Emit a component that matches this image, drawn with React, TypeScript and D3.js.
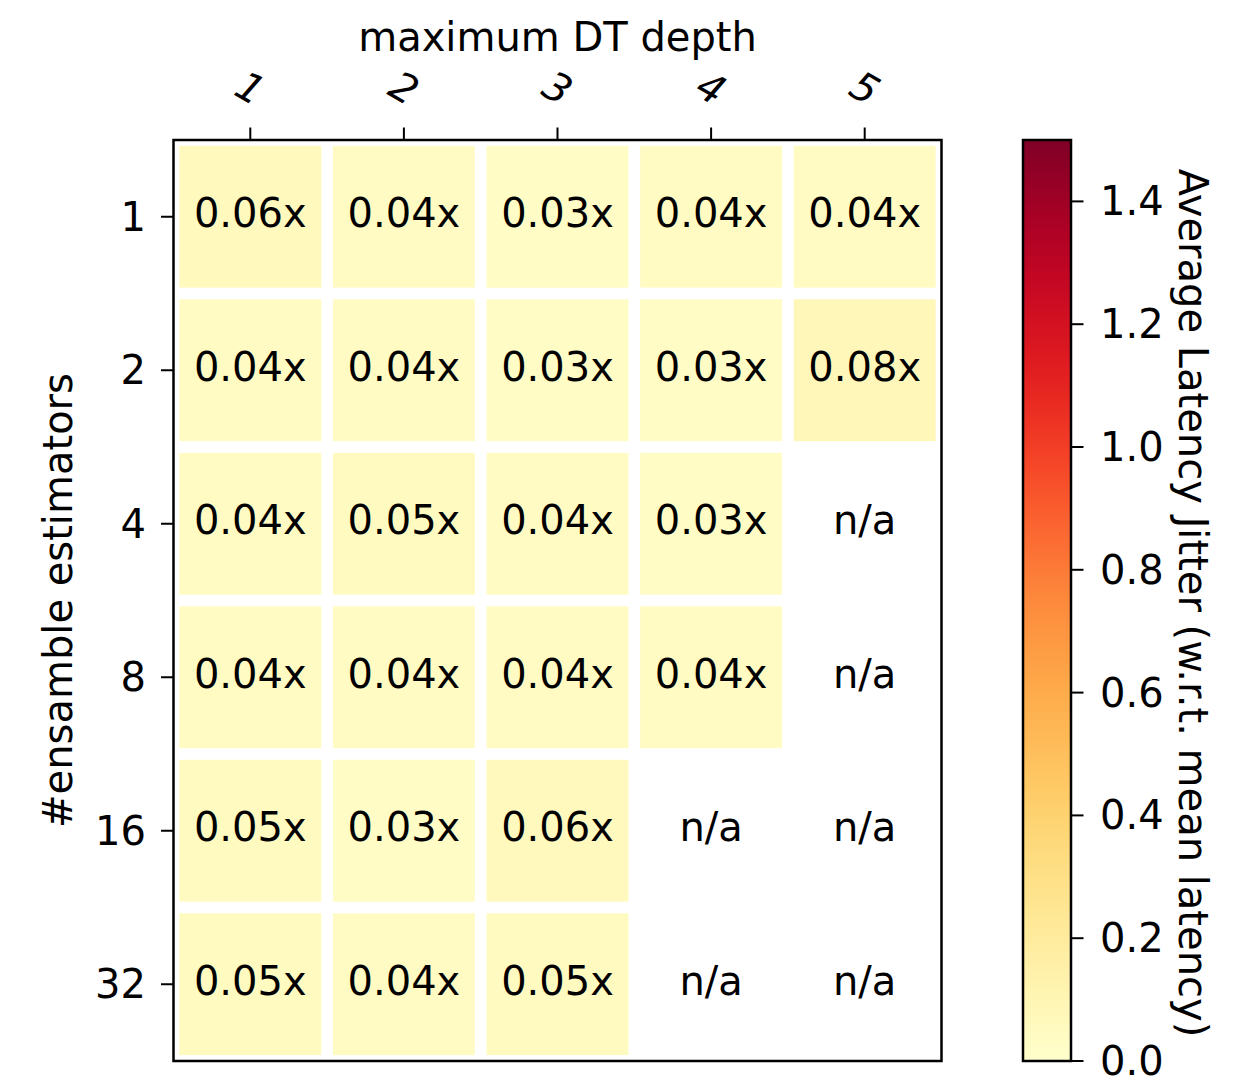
import React from 'react';
import * as d3 from 'd3';

const depths = ['1', '2', '3', '4', '5'];
const estimators = ['1', '2', '4', '8', '16', '32'];
// jitter per row (estimators) and column (depth); null = n/a
const jitter: (number | null)[][] = [
    [0.06, 0.04, 0.03, 0.04, 0.04],
    [0.04, 0.04, 0.03, 0.03, 0.08],
    [0.04, 0.05, 0.04, 0.03, null],
    [0.04, 0.04, 0.04, 0.04, null],
    [0.05, 0.03, 0.06, null, null],
    [0.05, 0.04, 0.05, null, null],
];
const cbarTicks = [0.0, 0.2, 0.4, 0.6, 0.8, 1.0, 1.2, 1.4];

const FONT = 'DejaVu Sans, sans-serif';
const FS = 40;

const App = () => {
    const W = 1239;
    const H = 1082;
    const plot = { left: 173.5, right: 941.5, top: 140, bottom: 1061 };
    const cbar = { left: 1023, right: 1071, top: 140, bottom: 1061 };

    const gapFrac = 0.076;
    const x = d3.scaleBand<string>()
        .domain(depths)
        .range([plot.left, plot.right])
        .paddingInner(gapFrac)
        .paddingOuter(gapFrac / 2);
    const y = d3.scaleBand<string>()
        .domain(estimators)
        .range([plot.top, plot.bottom])
        .paddingInner(gapFrac)
        .paddingOuter(gapFrac / 2);

    const color = d3.scaleSequential(d3.interpolateYlOrRd).domain([0, 1.5]);
    const cy = d3.scaleLinear().domain([0, 1.5]).range([cbar.bottom, cbar.top]);

    const stops = d3.range(0, 1.0001, 0.05);

    const xCenter = (d: string) => (x(d) as number) + x.bandwidth() / 2;
    const yCenter = (d: string) => (y(d) as number) + y.bandwidth() / 2;

    return (
        <div style={{ position: 'absolute', left: 0, top: 0 }}>
            <svg width={W} height={H} style={{ display: 'block', background: '#fff' }} fontFamily={FONT}>
                <defs>
                    <linearGradient id="cbarGrad" x1="0" y1="1" x2="0" y2="0">
                        {stops.map((t, i) => (
                            <stop key={i} offset={t} stopColor={d3.interpolateYlOrRd(t)} />
                        ))}
                    </linearGradient>
                </defs>

                {/* cells */}
                {jitter.map((row, ri) =>
                    row.map((v, ci) => {
                        const cx = xCenter(depths[ci]);
                        const cyy = yCenter(estimators[ri]);
                        return (
                            <g key={`${ri}-${ci}`}>
                                {v !== null && (
                                    <rect
                                        x={x(depths[ci])}
                                        y={y(estimators[ri])}
                                        width={x.bandwidth()}
                                        height={y.bandwidth()}
                                        fill={color(v)}
                                    />
                                )}
                                <text x={cx} y={cyy + 10.5} textAnchor="middle" fontSize={FS} fill="#000">
                                    {v === null ? 'n/a' : `${v.toFixed(2)}x`}
                                </text>
                            </g>
                        );
                    })
                )}

                {/* frame */}
                <rect
                    x={plot.left}
                    y={plot.top}
                    width={plot.right - plot.left}
                    height={plot.bottom - plot.top}
                    fill="none"
                    stroke="#000"
                    strokeWidth={2.5}
                />

                {/* top axis */}
                {depths.map(d => (
                    <g key={d}>
                        <line x1={xCenter(d)} x2={xCenter(d)} y1={plot.top} y2={plot.top - 12.5} stroke="#000" strokeWidth={2} />
                        <text
                            transform={`translate(${xCenter(d)},${88}) rotate(30)`}
                            textAnchor="middle"
                            dominantBaseline="central"
                            fontSize={FS}
                            fontStyle="italic"
                        >
                            {d}
                        </text>
                    </g>
                ))}
                <text x={(plot.left + plot.right) / 2} y={51} textAnchor="middle" fontSize={FS}>
                    maximum DT depth
                </text>

                {/* left axis */}
                {estimators.map(e => (
                    <g key={e}>
                        <line x1={plot.left} x2={plot.left - 12.5} y1={yCenter(e)} y2={yCenter(e)} stroke="#000" strokeWidth={2} />
                        <text x={146} y={yCenter(e) + 14} textAnchor="end" fontSize={FS}>
                            {e}
                        </text>
                    </g>
                ))}
                <text
                    transform={`translate(72,${(plot.top + plot.bottom) / 2}) rotate(-90)`}
                    textAnchor="middle"
                    fontSize={FS}
                >
                    #ensamble estimators
                </text>

                {/* colorbar */}
                <rect
                    x={cbar.left}
                    y={cbar.top}
                    width={cbar.right - cbar.left}
                    height={cbar.bottom - cbar.top}
                    fill="url(#cbarGrad)"
                    stroke="#000"
                    strokeWidth={2.5}
                />
                {cbarTicks.map(t => (
                    <g key={t}>
                        <line x1={cbar.right} x2={cbar.right + 12.5} y1={cy(t)} y2={cy(t)} stroke="#000" strokeWidth={2} />
                        <text x={1100} y={cy(t) + 14} fontSize={FS}>
                            {t.toFixed(1)}
                        </text>
                    </g>
                ))}
                <text
                    transform={`translate(1179,${603}) rotate(90)`}
                    textAnchor="middle"
                    fontSize={FS}
                >
                    Average Latency Jitter (w.r.t. mean latency)
                </text>
            </svg>
        </div>
    );
};

export default App;
